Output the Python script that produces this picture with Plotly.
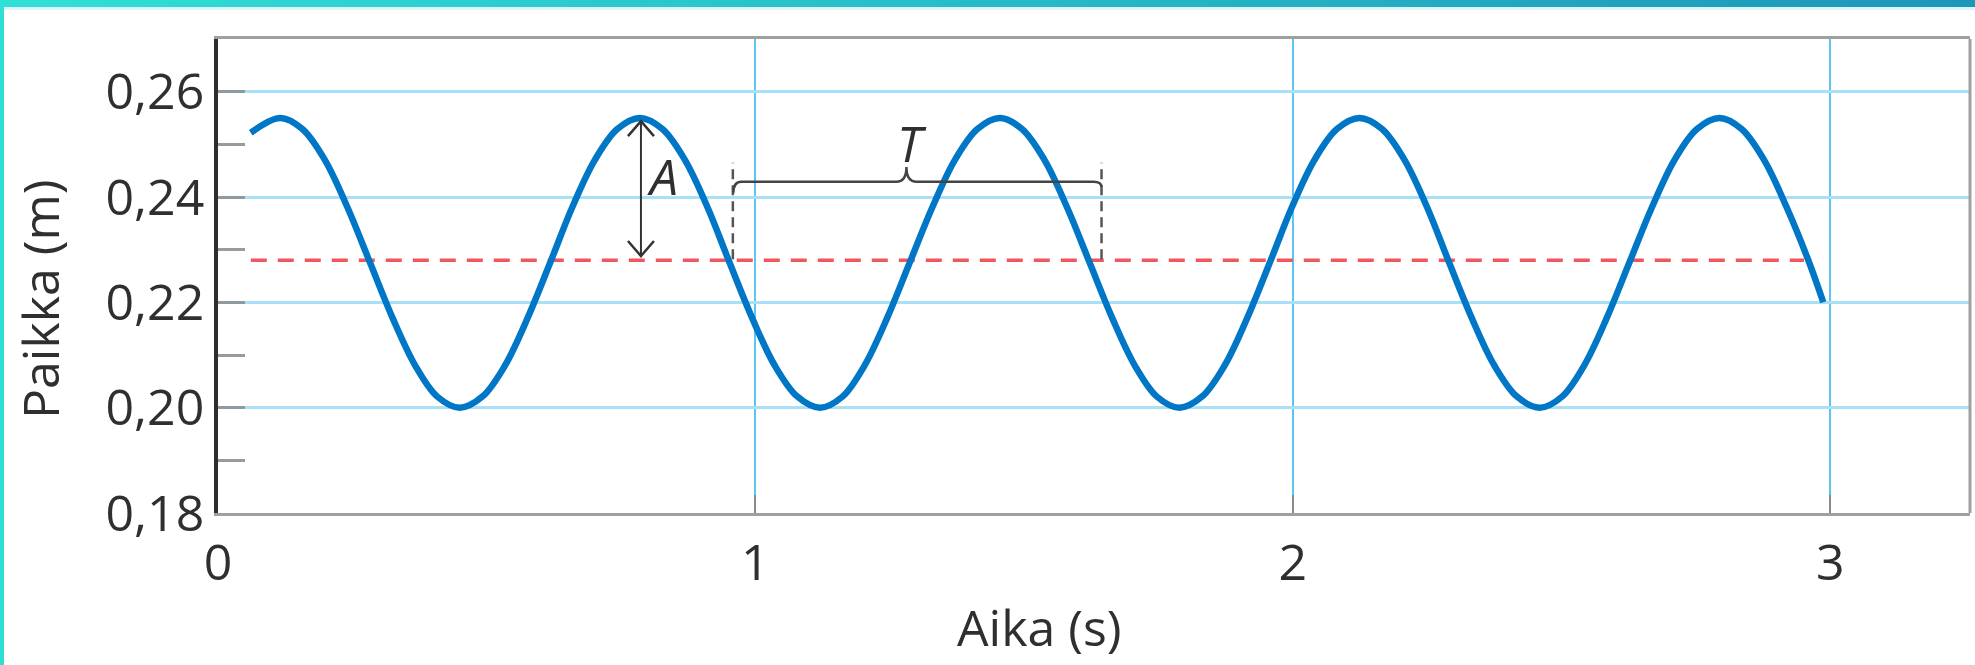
import plotly.graph_objects as go

# ---------------- data ----------------
time_s = [0.061,
          0.116, 0.157, 0.199, 0.241, 0.283, 0.325, 0.367, 0.408,
          0.450, 0.492, 0.534, 0.576, 0.618, 0.659, 0.701, 0.743,
          0.785, 0.827, 0.869, 0.911, 0.952, 0.994, 1.036, 1.078,
          1.120, 1.162, 1.203, 1.245, 1.287, 1.329, 1.371, 1.413,
          1.455, 1.496, 1.538, 1.580, 1.622, 1.664, 1.706, 1.747,
          1.789, 1.831, 1.873, 1.915, 1.957, 1.998, 2.040, 2.082,
          2.124, 2.166, 2.208, 2.250, 2.291, 2.333, 2.375, 2.417,
          2.459, 2.501, 2.542, 2.584, 2.626, 2.668, 2.710, 2.752,
          2.794, 2.835, 2.877, 2.919, 2.961,
          2.987]
position_m = [0.2522,
              0.2550, 0.2529, 0.2470, 0.2380, 0.2275, 0.2170, 0.2080, 0.2021,
              0.2000, 0.2021, 0.2080, 0.2170, 0.2275, 0.2380, 0.2470, 0.2529,
              0.2550, 0.2529, 0.2470, 0.2380, 0.2275, 0.2170, 0.2080, 0.2021,
              0.2000, 0.2021, 0.2080, 0.2170, 0.2275, 0.2380, 0.2470, 0.2529,
              0.2550, 0.2529, 0.2470, 0.2380, 0.2275, 0.2170, 0.2080, 0.2021,
              0.2000, 0.2021, 0.2080, 0.2170, 0.2275, 0.2380, 0.2470, 0.2529,
              0.2550, 0.2529, 0.2470, 0.2380, 0.2275, 0.2170, 0.2080, 0.2021,
              0.2000, 0.2021, 0.2080, 0.2170, 0.2275, 0.2380, 0.2470, 0.2529,
              0.2550, 0.2529, 0.2470, 0.2380, 0.2275,
              0.2200]

equilibrium_t = [0.061, 2.951]
equilibrium_y = [0.228, 0.228]

x_tickvals = [0, 1, 2, 3]
x_ticktext = ["0", "1", "2", "3"]
y_tickvals = [0.18, 0.20, 0.22, 0.24, 0.26]
y_ticktext = ["0,18", "0,20", "0,22", "0,24", "0,26"]
y_minor_ticks = [0.19, 0.21, 0.23, 0.25]

x_title = "Aika (s)"
y_title = "Paikka (m)"

# annotation anchors (data units)
A_X, A_TOP, A_BOTTOM = 0.787, 0.2544, 0.2288
A_LABEL = (0.828, 0.2439)
T_LEFT, T_MID, T_RIGHT = 0.959, 1.281, 1.644
T_BRACE_Y, T_TIP_Y, T_LEFT_END, T_RIGHT_END = 0.2429, 0.2457, 0.2408, 0.2419
T_DASH_TOP, T_DASH_BOTTOM = 0.2465, 0.2282
T_LABEL = (1.291, 0.2503)

X_RANGE = [0, 3.26]
Y_RANGE = [0.18, 0.27]

W, H = 1975, 665
FONT = "Open Sans"
FS = 50
TXT = "#2f2f2f"

fig = go.Figure()

fig.add_trace(go.Scatter(
    x=equilibrium_t, y=equilibrium_y, mode="lines",
    line=dict(color="#f0565b", width=3.5, dash="16px,11px"),
    hoverinfo="skip"))

fig.add_trace(go.Scatter(
    x=time_s, y=position_m, mode="lines",
    line=dict(color="#0077c6", width=6.5, shape="spline", smoothing=1.0),
    hoverinfo="skip"))

shapes = []

# top gradient bar + left border
N = 80
c0 = (48, 224, 214)
c1 = (30, 150, 186)
for i in range(N):
    f = (i + 0.5) / N
    col = "rgb(%d,%d,%d)" % tuple(round(a + (b - a) * f) for a, b in zip(c0, c1))
    shapes.append(dict(type="rect", xref="paper", yref="paper",
                       x0=i / N, x1=(i + 1) / N + 0.001, y0=1 - 7 / H, y1=1,
                       fillcolor=col, line=dict(width=0), layer="above"))
shapes.append(dict(type="rect", xref="paper", yref="paper",
                   x0=0, x1=1, y0=1 - 10 / H, y1=1 - 7 / H,
                   fillcolor="rgba(200,238,244,0.6)", line=dict(width=0)))
shapes.append(dict(type="rect", xref="paper", yref="paper",
                   x0=0, x1=4 / W, y0=0, y1=1 - 7 / H,
                   fillcolor="rgb(48,222,212)", line=dict(width=0)))

# right border of plot frame
shapes.append(dict(type="line", xref="x domain", yref="y domain",
                   x0=1, x1=1, y0=0, y1=1, line=dict(color="#a0a0a0", width=3)))

# amplitude arrow
shapes.append(dict(type="line", xref="x", yref="y", x0=A_X, x1=A_X,
                   y0=A_BOTTOM, y1=A_TOP, line=dict(color="#333333", width=2)))
shapes.append(dict(type="path", xref="x", yref="y", xsizemode="pixel", ysizemode="pixel",
                   xanchor=A_X, yanchor=A_TOP, path="M -13,-15 L 0,0 L 13,-15",
                   line=dict(color="#333333", width=2.5)))
shapes.append(dict(type="path", xref="x", yref="y", xsizemode="pixel", ysizemode="pixel",
                   xanchor=A_X, yanchor=A_BOTTOM, path="M -13,15 L 0,0 L 13,15",
                   line=dict(color="#333333", width=2.5)))

# period dashed markers
for xv in (T_LEFT - 0.001, T_RIGHT):
    shapes.append(dict(type="line", xref="x", yref="y", x0=xv, x1=xv,
                       y0=T_DASH_BOTTOM, y1=T_DASH_TOP,
                       line=dict(color="#555555", width=2.5, dash="10px,6px")))

# curly brace
rx = 0.015
rx2 = 0.019
brace = (f"M {T_LEFT},{T_LEFT_END} Q {T_LEFT},{T_BRACE_Y} {T_LEFT + rx},{T_BRACE_Y} "
         f"L {T_MID - rx2},{T_BRACE_Y} Q {T_MID},{T_BRACE_Y} {T_MID},{T_TIP_Y} "
         f"Q {T_MID},{T_BRACE_Y} {T_MID + rx2},{T_BRACE_Y} "
         f"L {T_RIGHT - rx},{T_BRACE_Y} Q {T_RIGHT},{T_BRACE_Y} {T_RIGHT},{T_RIGHT_END}")
shapes.append(dict(type="path", xref="x", yref="y", path=brace,
                   line=dict(color="#444444", width=2.5)))

annotations = [
    dict(text="<i>A</i>", x=A_LABEL[0], y=A_LABEL[1], xref="x", yref="y",
         showarrow=False, font=dict(family=FONT, size=FS, color=TXT),
         xanchor="center", yanchor="middle"),
    dict(text="<i>T</i>", x=T_LABEL[0], y=T_LABEL[1], xref="x", yref="y",
         showarrow=False, font=dict(family=FONT, size=FS, color=TXT),
         xanchor="center", yanchor="middle"),
    dict(text=x_title, x=1039 / W, y=1 - 627 / H, xref="paper", yref="paper",
         showarrow=False, font=dict(family=FONT, size=FS, color=TXT),
         xanchor="center", yanchor="middle"),
    dict(text=y_title, x=40 / W, y=1 - 299 / H, xref="paper", yref="paper",
         showarrow=False, textangle=-90, font=dict(family=FONT, size=FS, color=TXT),
         xanchor="center", yanchor="middle"),
]

fig.update_layout(
    autosize=True,
    margin=dict(l=0, r=0, t=0, b=0, pad=0),
    paper_bgcolor="white", plot_bgcolor="white",
    showlegend=False,
    shapes=shapes, annotations=annotations,
    font=dict(family=FONT, size=FS, color=TXT),
    xaxis=dict(domain=[218 / W, 1970 / W], range=X_RANGE, tickvals=x_tickvals,
               ticktext=x_ticktext, showgrid=True, gridcolor="#5cc6f2", gridwidth=2,
               zeroline=False, showline=True, linecolor="#a0a0a0", linewidth=3,
               mirror=True, ticks="inside", ticklen=18, tickwidth=2, tickcolor="#8a8a8a",
               tickfont=dict(family=FONT, size=FS, color=TXT), ticklabelstandoff=4,
               automargin=False),
    yaxis=dict(domain=[1 - 513 / H, 1 - 39 / H], range=Y_RANGE, tickvals=y_tickvals,
               ticktext=y_ticktext, showgrid=True, gridcolor="#a8e0f7", gridwidth=3,
               zeroline=False, showline=True, linecolor="#2e2e2e", linewidth=3.5,
               ticks="inside", ticklen=27, tickwidth=3, tickcolor="#8f9a9e",
               tickfont=dict(family=FONT, size=FS, color=TXT), ticklabelstandoff=0,
               automargin=False,
               minor=dict(tickvals=y_minor_ticks, ticks="inside", ticklen=27,
                          tickwidth=3, tickcolor="#9a9a9a", showgrid=False)),
)

post = ("document.documentElement.style.margin='0';"
        "document.documentElement.style.overflow='hidden';"
        "document.body.style.margin='0';document.body.style.overflow='hidden';"
        "var gd=document.getElementById('{plot_id}');"
        "gd.style.width='100vw';gd.style.height='100vh';"
        "Plotly.Plots.resize(gd);")

fig.write_html("out.html", config={"displayModeBar": False, "responsive": True},
               default_width="100vw", default_height="100vh", post_script=post)
